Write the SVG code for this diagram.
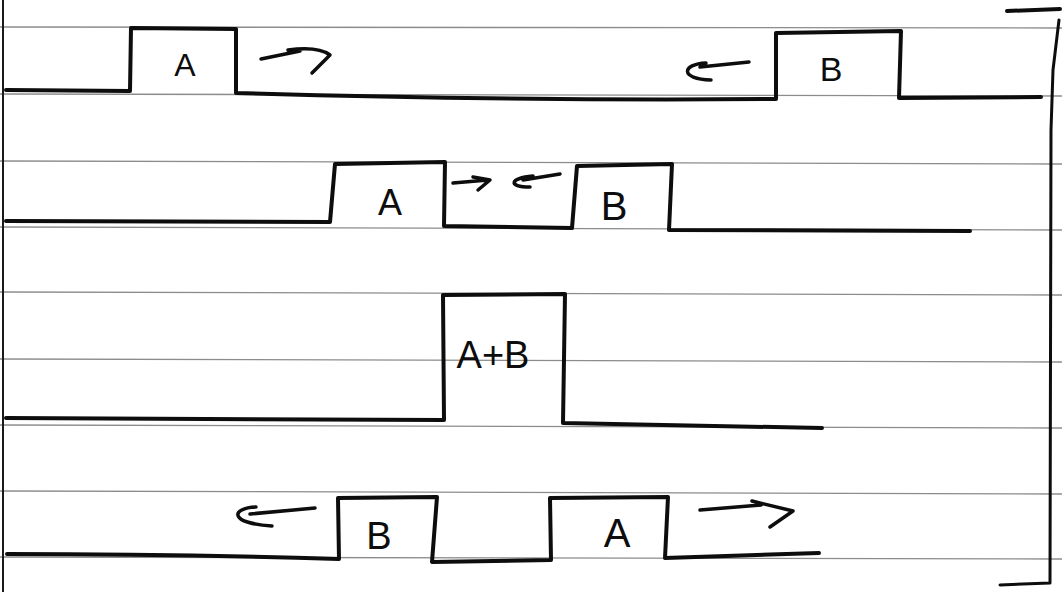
<svg xmlns="http://www.w3.org/2000/svg" width="1062" height="592" viewBox="0 0 1062 592">
  <style>
    .rule { stroke: #8c8c8c; stroke-width: 1.3; fill: none; }
    .margin { stroke: #1a1a1a; stroke-width: 2; fill: none; }
    .ink { stroke: #0d0d0d; stroke-width: 4; fill: none; stroke-linejoin: round; stroke-linecap: round; }
    .arrow { stroke: #0d0d0d; stroke-width: 3.5; fill: none; stroke-linejoin: round; stroke-linecap: round; }
    .label { font-family: "Liberation Sans", Arial, sans-serif; fill: #0d0d0d; text-anchor: middle; }
  </style>
  <rect x="0" y="0" width="1062" height="592" fill="#ffffff"/>

  <g id="paper">
    <line class="rule" x1="0" y1="27" x2="1062" y2="28"/>
    <line class="rule" x1="0" y1="94" x2="1062" y2="96"/>
    <line class="rule" x1="0" y1="161" x2="1062" y2="164"/>
    <line class="rule" x1="0" y1="227" x2="1062" y2="230"/>
    <line class="rule" x1="0" y1="292" x2="1062" y2="295"/>
    <line class="rule" x1="0" y1="359" x2="1062" y2="362"/>
    <line class="rule" x1="0" y1="425" x2="1062" y2="428"/>
    <line class="rule" x1="0" y1="491" x2="1062" y2="494"/>
    <line class="rule" x1="0" y1="557" x2="1062" y2="559"/>
    <line class="margin" x1="3" y1="0" x2="3" y2="592"/>
    <path class="ink" d="M1007,11 L1060,9"/>
    <path class="ink" d="M1059,20 L1053,70 L1051,130 L1050,583 M1000,585 L1050,583" style="stroke-width:3"/>
  </g>

  <g id="row1">
    <path class="ink" d="M6,90 L130,91 L131,28 L236,29 L236,93 Q500,101 776,99 L776,33 L901,31 L899,98 L1041,97"/>
  </g>
  <g id="row2">
    <path class="ink" d="M6,221 L330,222 L335,164 L445,162 L444,226 L572,228 L577,166 L672,164 L669,230 L970,231"/>
  </g>
  <g id="row3">
    <path class="ink" d="M6,418 L444,420 L443,295 L565,294 L563,423 L822,428"/>
  </g>
  <g id="row4">
    <path class="ink" d="M7,554 Q170,554 339,559 L338,498 L437,497 L432,562 L551,560 L550,498 L668,497 L665,558 L819,553"/>
  </g>

  <g id="node-row1-A"><text class="label" x="185" y="76" font-size="32">A</text></g>
  <g id="node-row1-B"><text class="label" x="831" y="81" font-size="34">B</text></g>
  <g id="node-row2-A"><text class="label" x="390" y="215" font-size="36">A</text></g>
  <g id="node-row2-B"><text class="label" x="614" y="220" font-size="40">B</text></g>
  <g id="node-row3-AB"><text class="label" x="493" y="368" font-size="38">A+B</text></g>
  <g id="node-row4-B"><text class="label" x="379" y="549" font-size="38">B</text></g>
  <g id="node-row4-A"><text class="label" x="617" y="547" font-size="40">A</text></g>

  <g id="connectors">
    <path class="arrow" d="M261,59 L300,51 M288,50 Q318,46 330,55 L312,73"/>
    <path class="arrow" d="M749,62 L700,67 M706,63 C682,64 679,79 711,80"/>
    <path class="arrow" d="M453,183 L488,180 M473,177 L490,180 L478,190"/>
    <path class="arrow" d="M560,174 L523,180 M533,176 C510,178 507,187 530,187"/>
    <path class="arrow" d="M315,508 L250,514 M256,507 C231,508 228,523 272,526"/>
    <path class="arrow" d="M700,510 L761,505 M752,501 L793,511 L770,527"/>
  </g>
</svg>
